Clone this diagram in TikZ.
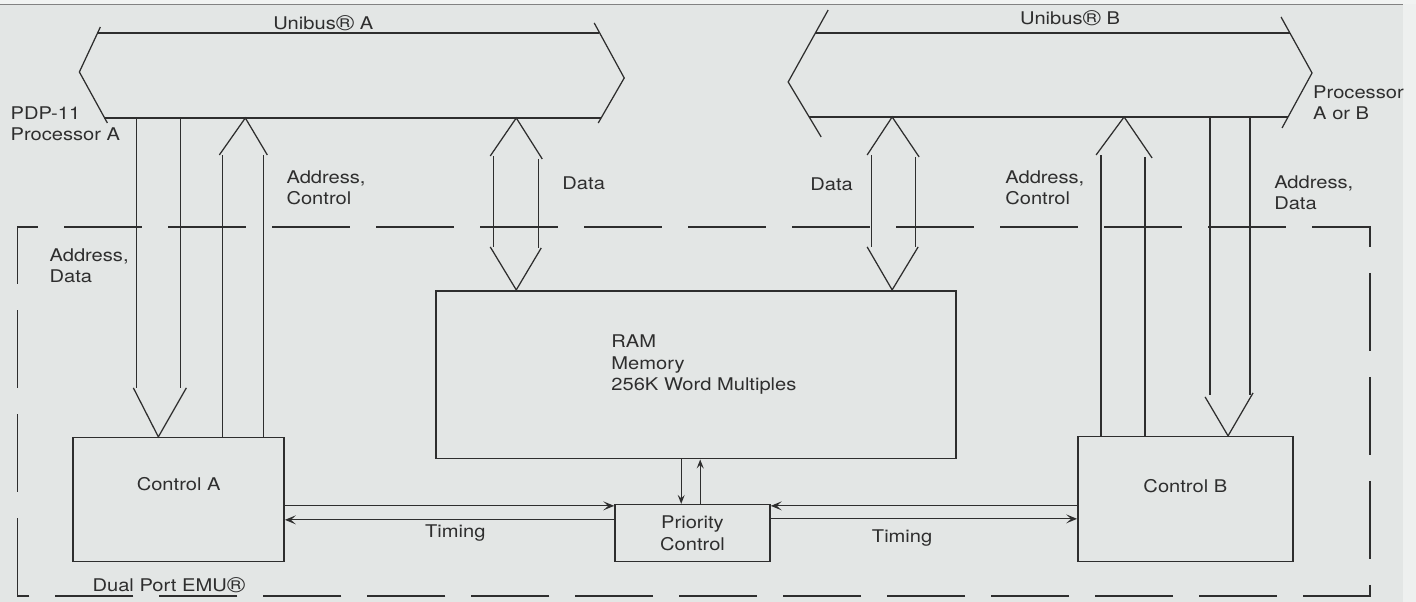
\documentclass[tikz,border=0pt]{standalone}
\usepackage{graphicx}
\usepackage{fontspec}
\setmainfont{TeX Gyre Heros}[FakeStretch=1.15]
\usetikzlibrary{arrows.meta}
\definecolor{paper}{HTML}{E3E6E5}
\definecolor{ink}{HTML}{2E2E2E}
\newcommand\regmark{\raisebox{-0.5pt}{\scalebox{1.25}{®}}}
\begin{document}
\begin{tikzpicture}[x=1pt,y=-1pt,
  line/.style={draw=ink,line width=1.25pt},
  boxln/.style={draw=ink,line width=1.6pt},
  box/.style={boxln,inner sep=0pt,anchor=north west,text=ink,font=\fontsize{17.5}{21.5}\selectfont,align=center},
  lbl/.style={inner sep=0pt,text=ink,font=\fontsize{17.5}{21.5}\selectfont,align=left},
  tip/.style={line,-{Stealth[length=11pt,width=9pt,inset=5pt]}},
  stip/.style={line,-{Stealth[length=9pt,width=7pt,inset=3.5pt]}},
  border/.style={draw=ink,line width=1.4pt,dash pattern=on 78pt off 26pt}]
% background
\fill[paper] (0,0) rectangle (1416,602);
\fill[paper!60!white] (1403,0) rectangle (1416,602);
\fill[paper!50!white] (0,0) rectangle (1416,4);
\draw[ink!60,line width=0.8pt] (0,4.5) -- (1403,4.5);
\useasboundingbox (0,0) rectangle (1416,602);

% dashed EMU boundary
\draw[border] (17,596) -- (17,227) -- (1370,227) -- (1370,596) -- cycle;

% Unibus A
\draw[line] (100,27) -- (79,72) -- (107,123);
\draw[line] (594,23) -- (624,78) -- (598,123);
\draw[line] (97,33) -- (599,33);
\draw[line] (104,118) -- (601,118);
% Unibus B
\draw[line] (828,10) -- (788,82) -- (821,137);
\draw[line] (1281,17) -- (1312,73) -- (1282,128);
\draw[line] (815,33) -- (1290,33);
\draw[line] (809,117) -- (1288,117);

% boxes
\node[box,minimum width=211pt,minimum height=124pt] (ctrlA) at (72,437) {Control A\\[10pt]};
\node[box,minimum width=215pt,minimum height=125pt] (ctrlB) at (1077,436) {Control B\\[4pt]};
\node[box,minimum width=520pt,minimum height=168pt] (ram) at (435,290) {};
\node[box,minimum width=155pt,minimum height=57pt] (prio) at (614,504) {Priority\\Control};

% hollow arrow: Address, Data (A) down
\draw[line] (136,118) -- (136,388);
\draw[line] (180,118) -- (180,388);
\draw[line] (133,388) -- (158,437) -- (186,388);
% hollow arrow: Address, Control (A) up
\draw[line] (222,437) -- (222,155);
\draw[line] (263,437) -- (263,155);
\draw[line] (219,155) -- (245,118) -- (267,155);
% Data A double
\draw[line] (493,156) -- (493,247);
\draw[line] (538,159) -- (538,248);
\draw[line] (490,156) -- (516,118) -- (542,159);
\draw[line] (490,247) -- (516,290) -- (541,248);
% Data B double
\draw[line] (871,155) -- (871,247);
\draw[line] (915,157) -- (915,247);
\draw[line] (867,155) -- (892,117) -- (919,157);
\draw[line] (867,247) -- (892,290) -- (918,247);
% Address, Control (B) up
\draw[line] (1101,436) -- (1101,155);
\draw[line] (1145,436) -- (1145,157);
\draw[line] (1096,155) -- (1124,117) -- (1152,158);
% Address, Data (B) down
\draw[line] (1210,117) -- (1210,395);
\draw[line] (1250,117) -- (1250,395);
\draw[line] (1205,397) -- (1228,436) -- (1253,393);

% timing connectors
\draw[tip] (ctrlA.east |- 0,506) -- (prio.west |- 0,506);
\draw[tip] (prio.west |- 0,520) -- (ctrlA.east |- 0,520);
\draw[tip] (ctrlB.west |- 0,506) -- (prio.east |- 0,506);
\draw[tip] (prio.east |- 0,519) -- (ctrlB.west |- 0,519);
% RAM <-> priority
\draw[stip] (ram.south -| 681,0) -- (prio.north -| 681,0);
\draw[stip] (prio.north -| 700,0) -- (ram.south -| 700,0);

% labels
\node[lbl] (ua) at (323,23) {Unibus\regmark\ A};
\node[lbl] (ub) at (1070,18) {Unibus\regmark\ B};
\node[lbl,anchor=west] (pdp) at (10,124) {PDP-11\\Processor A};
\node[lbl,anchor=west] (pab) at (1313,103) {Processor\\A or B};
\node[lbl,anchor=west] (lac1) at (286,188) {Address,\\Control};
\node[lbl,anchor=west] (lda) at (562,183) {Data};
\node[lbl,anchor=west] (ldb) at (810,184) {Data};
\node[lbl,anchor=west] (lac2) at (1005,188) {Address,\\Control};
\node[lbl,anchor=west] (lad2) at (1274,193) {Address,\\Data};
\node[lbl,anchor=west] (lad1) at (49,266) {Address,\\Data};
\node[lbl,anchor=west] (ramtxt) at (611,365) {RAM\\Memory\\256K Word Multiples};
\node[lbl] (t1) at (455,533) {Timing};
\node[lbl] (t2) at (902,538) {Timing};
\node[lbl,anchor=west] (emu) at (92,585) {Dual Port EMU\regmark};
\end{tikzpicture}
\end{document}
